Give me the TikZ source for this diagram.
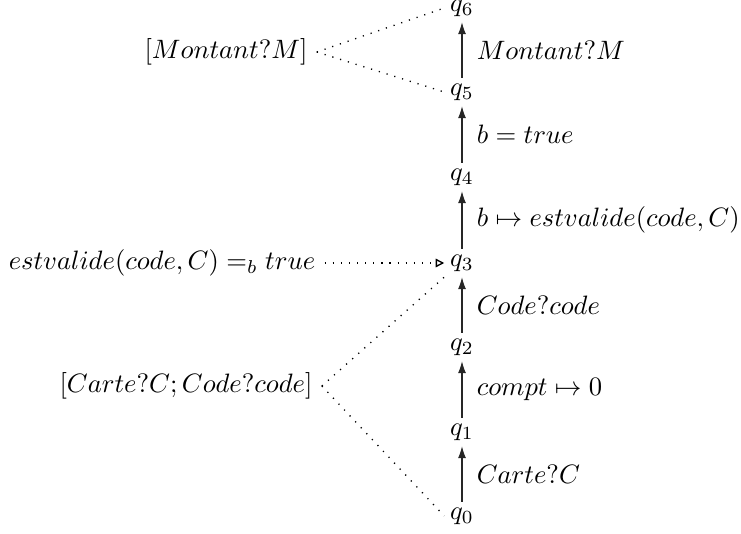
\documentclass[tikz,border=0pt]{standalone}
\usetikzlibrary{arrows.meta}
\begin{document}
\begin{tikzpicture}[x=0.01322cm,y=-0.01322cm,
  st/.style={inner sep=2pt},
  tr/.style={-{Latex[length=4.5pt,width=3pt]},line width=0.45pt,draw=black!85},
  lab/.style={right,xshift=2pt},
  dots/.style={dash pattern=on 0.45pt off 2.6pt,line width=0.5pt},
  every node/.style={font=\normalsize}]
\useasboundingbox (0,0) rectangle (741,534);
\node[st] (q0) at (462,516) {$q_0$};
\node[st] (q1) at (462,432) {$q_1$};
\node[st] (q2) at (462,347) {$q_2$};
\node[st] (q3) at (462,263) {$q_3$};
\node[st] (q4) at (462,177) {$q_4$};
\node[st] (q5) at (462,92) {$q_5$};
\node[st] (q6) at (462,8) {$q_6$};
\draw[tr] (q0) -- node[lab] {$Carte?C$} (q1);
\draw[tr] (q1) -- node[lab] {$compt \mapsto 0$} (q2);
\draw[tr] (q2) -- node[lab] {$Code?code$} (q3);
\draw[tr] (q3) -- node[lab] {$b \mapsto estvalide(code,C)$} (q4);
\draw[tr] (q4) -- node[lab] {$b = true$} (q5);
\draw[tr] (q5) -- node[lab] {$Montant?M$} (q6);
\node (m) at (226,52) {$[Montant?M]$};
\node (e) at (162,263) {$estvalide(code,C) =_b true$};
\node (c) at (186,386) {$[Carte?C; Code?code]$};
\draw[dots] (m.east) -- (q6.west);
\draw[dots] (m.east) -- (q5.west);
\draw[dots,-{Triangle[open,length=3.2pt,width=3.2pt]}] (e.east) -- (q3.west);
\draw[dots] (c.east) -- (q3.south west);
\draw[dots] (c.east) -- (q0.west);
\end{tikzpicture}
\end{document}
